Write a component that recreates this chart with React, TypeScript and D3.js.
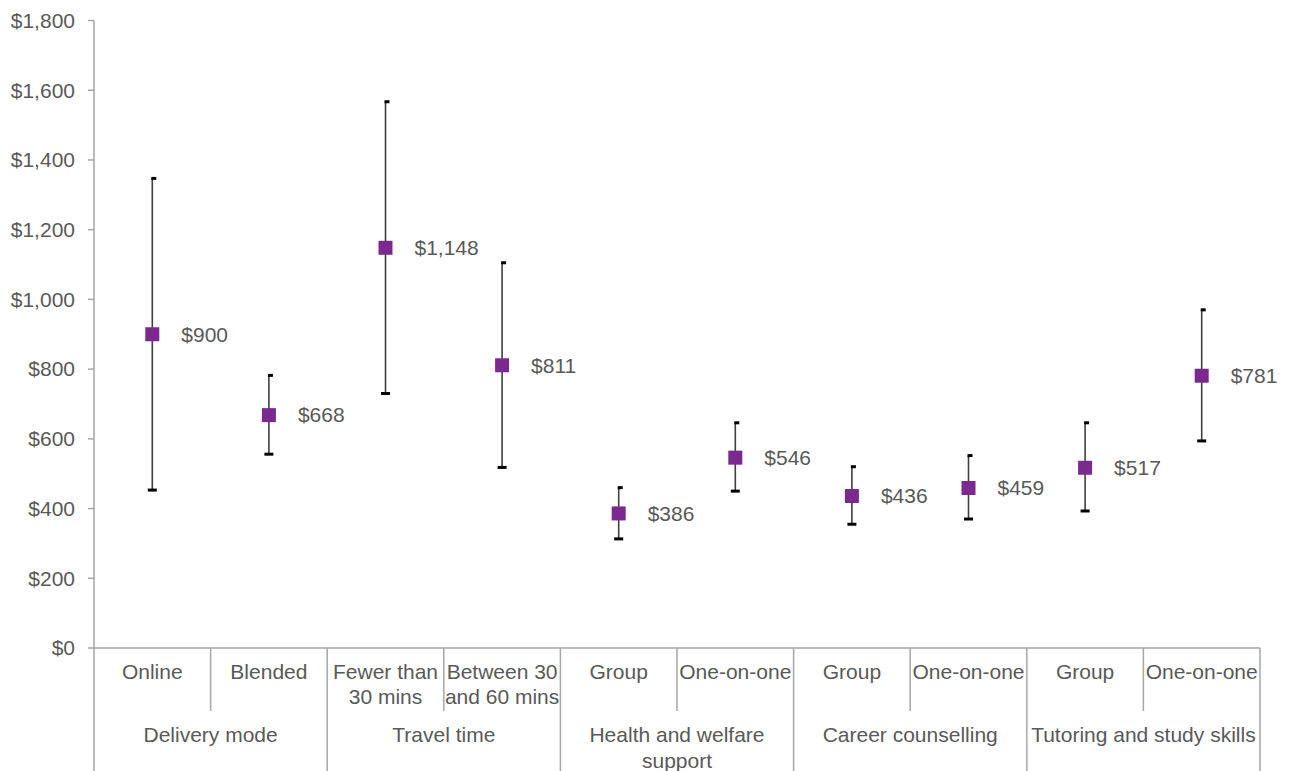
import * as d3 from 'd3';

// data
const categories = [
  ['Online'],
  ['Blended'],
  ['Fewer than', '30 mins'],
  ['Between 30', 'and 60 mins'],
  ['Group'],
  ['One-on-one'],
  ['Group'],
  ['One-on-one'],
  ['Group'],
  ['One-on-one'],
];
const groupNames = [
  ['Delivery mode'],
  ['Travel time'],
  ['Health and welfare', 'support'],
  ['Career counselling'],
  ['Tutoring and study skills'],
];
const groupSize = [2, 2, 2, 2, 2];
const means = [900, 668, 1148, 811, 386, 546, 436, 459, 517, 781];
const lower = [453, 556, 730, 518, 313, 450, 355, 370, 393, 594];
const upper = [1347, 782, 1567, 1105, 460, 646, 520, 552, 646, 970];
const yTicks = [0, 200, 400, 600, 800, 1000, 1200, 1400, 1600, 1800];

const width = 1290;
const height = 771;
const marginLeft = 94;
const marginRight = 30;
const marginTop = 20.5;
const plotBottom = 648;

const font = 'Liberation Sans, Arial, sans-serif';
const fontSize = 21;
const textColor = '#595959';
const axisColor = '#a6a6a6';
const markerColor = '#7a2a8e';

export default function App() {
  const x = d3
    .scaleBand<number>()
    .domain(d3.range(categories.length))
    .range([marginLeft, width - marginRight]);

  const y = d3.scaleLinear().domain([0, 1800]).range([plotBottom, marginTop]);

  const fmt = (v: number) => '$' + d3.format(',')(v);
  const bw = x.bandwidth();

  // group boundaries (band indices)
  const groupStarts = groupSize.map((_, i) => d3.sum(groupSize.slice(0, i)));

  return (
    <svg
      width={width}
      height={height}
      style={{ position: 'absolute', left: 0, top: 0 }}
      fontFamily={font}
    >
      {/* y axis */}
      <line x1={marginLeft} x2={marginLeft} y1={marginTop} y2={height} stroke={axisColor} strokeWidth={1.5} />
      {yTicks.map((t) => (
        <g key={t}>
          <line x1={marginLeft - 6} x2={marginLeft} y1={y(t)} y2={y(t)} stroke={axisColor} strokeWidth={1.5} />
          <text x={75} y={y(t)} dy="0.35em" textAnchor="end" fontSize={fontSize} fill={textColor}>
            {fmt(t)}
          </text>
        </g>
      ))}

      {/* x axis */}
      <line x1={marginLeft} x2={width - marginRight} y1={plotBottom} y2={plotBottom} stroke={axisColor} strokeWidth={1.5} />

      {/* inner dividers between sub-categories */}
      {categories.map((_, i) =>
        i === 0 || groupStarts.includes(i) ? null : (
          <line
            key={'d' + i}
            x1={x(i)!}
            x2={x(i)!}
            y1={plotBottom}
            y2={711}
            stroke={axisColor}
            strokeWidth={1.5}
          />
        )
      )}

      {/* group dividers */}
      {[...groupStarts.slice(1), categories.length].map((gi) => {
        const gx = gi < categories.length ? x(gi)! : width - marginRight;
        return (
          <line key={'g' + gi} x1={gx} x2={gx} y1={plotBottom} y2={height} stroke={axisColor} strokeWidth={1.5} />
        );
      })}

      {/* category labels */}
      {categories.map((lines, i) => (
        <text key={'c' + i} textAnchor="middle" fontSize={fontSize} fill={textColor}>
          {lines.map((l, j) => (
            <tspan key={j} x={x(i)! + bw / 2} y={672 + j * 25} dy="0.35em">
              {l}
            </tspan>
          ))}
        </text>
      ))}

      {/* group labels */}
      {groupNames.map((lines, gi) => {
        const start = x(groupStarts[gi])!;
        const cx = start + (bw * groupSize[gi]) / 2;
        return (
          <text key={'gl' + gi} textAnchor="middle" fontSize={fontSize} fill={textColor}>
            {lines.map((l, j) => (
              <tspan key={j} x={cx} y={735 + j * 26} dy="0.35em">
                {l}
              </tspan>
            ))}
          </text>
        );
      })}

      {/* error bars, markers, labels */}
      {means.map((m, i) => {
        const cx = x(i)! + bw / 2;
        return (
          <g key={'p' + i}>
            <line x1={cx} x2={cx} y1={y(upper[i])} y2={y(lower[i])} stroke="#404040" strokeWidth={1.6} />
            <line x1={cx - 1} x2={cx + 4} y1={y(upper[i])} y2={y(upper[i])} stroke="#000" strokeWidth={3} />
            <line x1={cx - 4.5} x2={cx + 4.5} y1={y(lower[i])} y2={y(lower[i])} stroke="#000" strokeWidth={3} />
            <rect x={cx - 7} y={y(m) - 7} width={14} height={14} fill={markerColor} />
            <text x={cx + 29} y={y(m)} dy="0.35em" fontSize={fontSize} fill={textColor}>
              {fmt(m)}
            </text>
          </g>
        );
      })}
    </svg>
  );
}
